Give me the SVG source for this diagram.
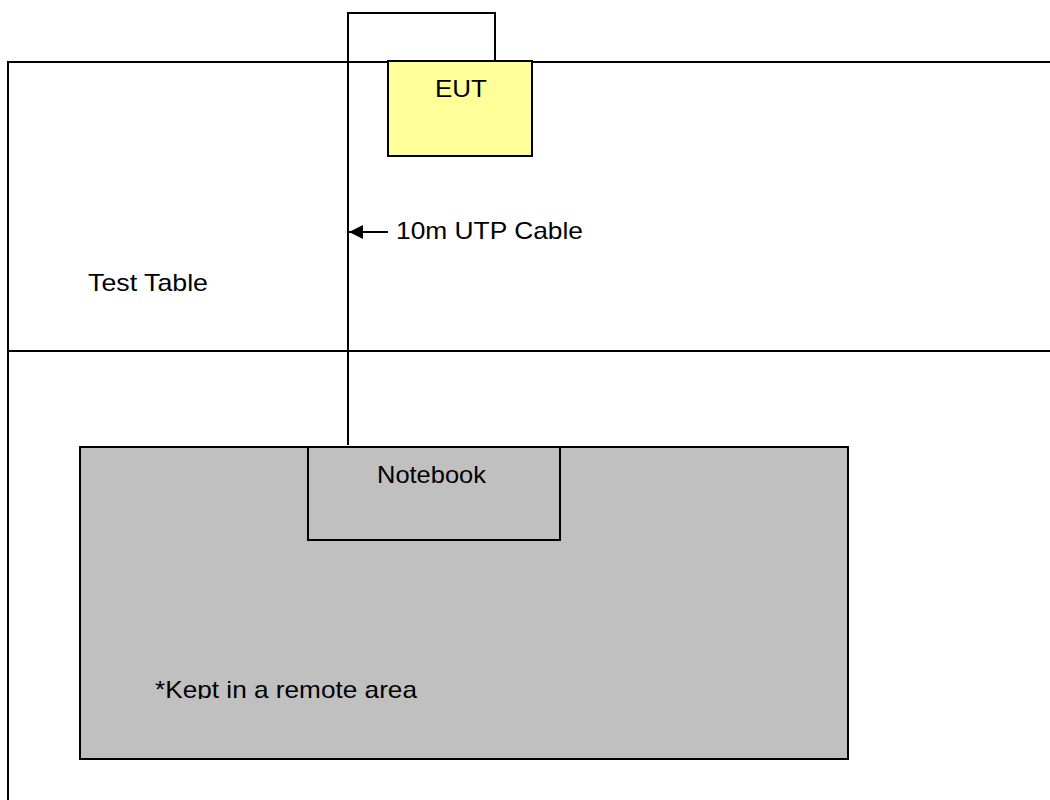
<svg xmlns="http://www.w3.org/2000/svg" width="1050" height="800" viewBox="0 0 1050 800">
<defs>
<style>
.ln{stroke:#000;stroke-width:2;fill:none}
.t{font-family:"Liberation Sans",Arial,sans-serif;font-size:24px;fill:#000}
</style>
<marker id="ah" viewBox="0 0 14 14" refX="0" refY="7" markerWidth="14" markerHeight="14" markerUnits="userSpaceOnUse" orient="auto">
<path d="M14,0 L0,7 L14,14 Z" fill="#000"/>
</marker>
<clipPath id="clipK"><rect x="80" y="600" width="768" height="99"/></clipPath>
</defs>
<rect width="1050" height="800" fill="#fff"/>
<g id="table">
<path class="ln" d="M1050,62 H8 V800"/>
<line class="ln" x1="8" y1="351" x2="1050" y2="351"/>
<text class="t" x="88" y="291" textLength="120" lengthAdjust="spacingAndGlyphs">Test Table</text>
</g>
<g id="remote">
<rect x="80" y="447" width="768" height="312" fill="#c0c0c0" stroke="#000" stroke-width="2"/>
<text class="t" x="155" y="698" clip-path="url(#clipK)" textLength="262" lengthAdjust="spacingAndGlyphs">*Kept in a remote area</text>
</g>
<g id="notebook">
<rect x="308" y="447" width="252" height="93" fill="#c0c0c0" stroke="#000" stroke-width="2"/>
<text class="t" x="377" y="483" textLength="109" lengthAdjust="spacingAndGlyphs">Notebook</text>
</g>
<g id="connectors">
<path class="ln" d="M348,445 V13 H495 V61"/>
<line class="ln" x1="349" y1="232" x2="388" y2="232" marker-start="url(#ah)"/>
<text class="t" x="396" y="239" textLength="187" lengthAdjust="spacingAndGlyphs">10m UTP Cable</text>
</g>
<g id="eut">
<rect x="388" y="61" width="144" height="95" fill="#ffff99" stroke="#000" stroke-width="2"/>
<text class="t" x="435" y="97" textLength="52" lengthAdjust="spacingAndGlyphs">EUT</text>
</g>
</svg>
